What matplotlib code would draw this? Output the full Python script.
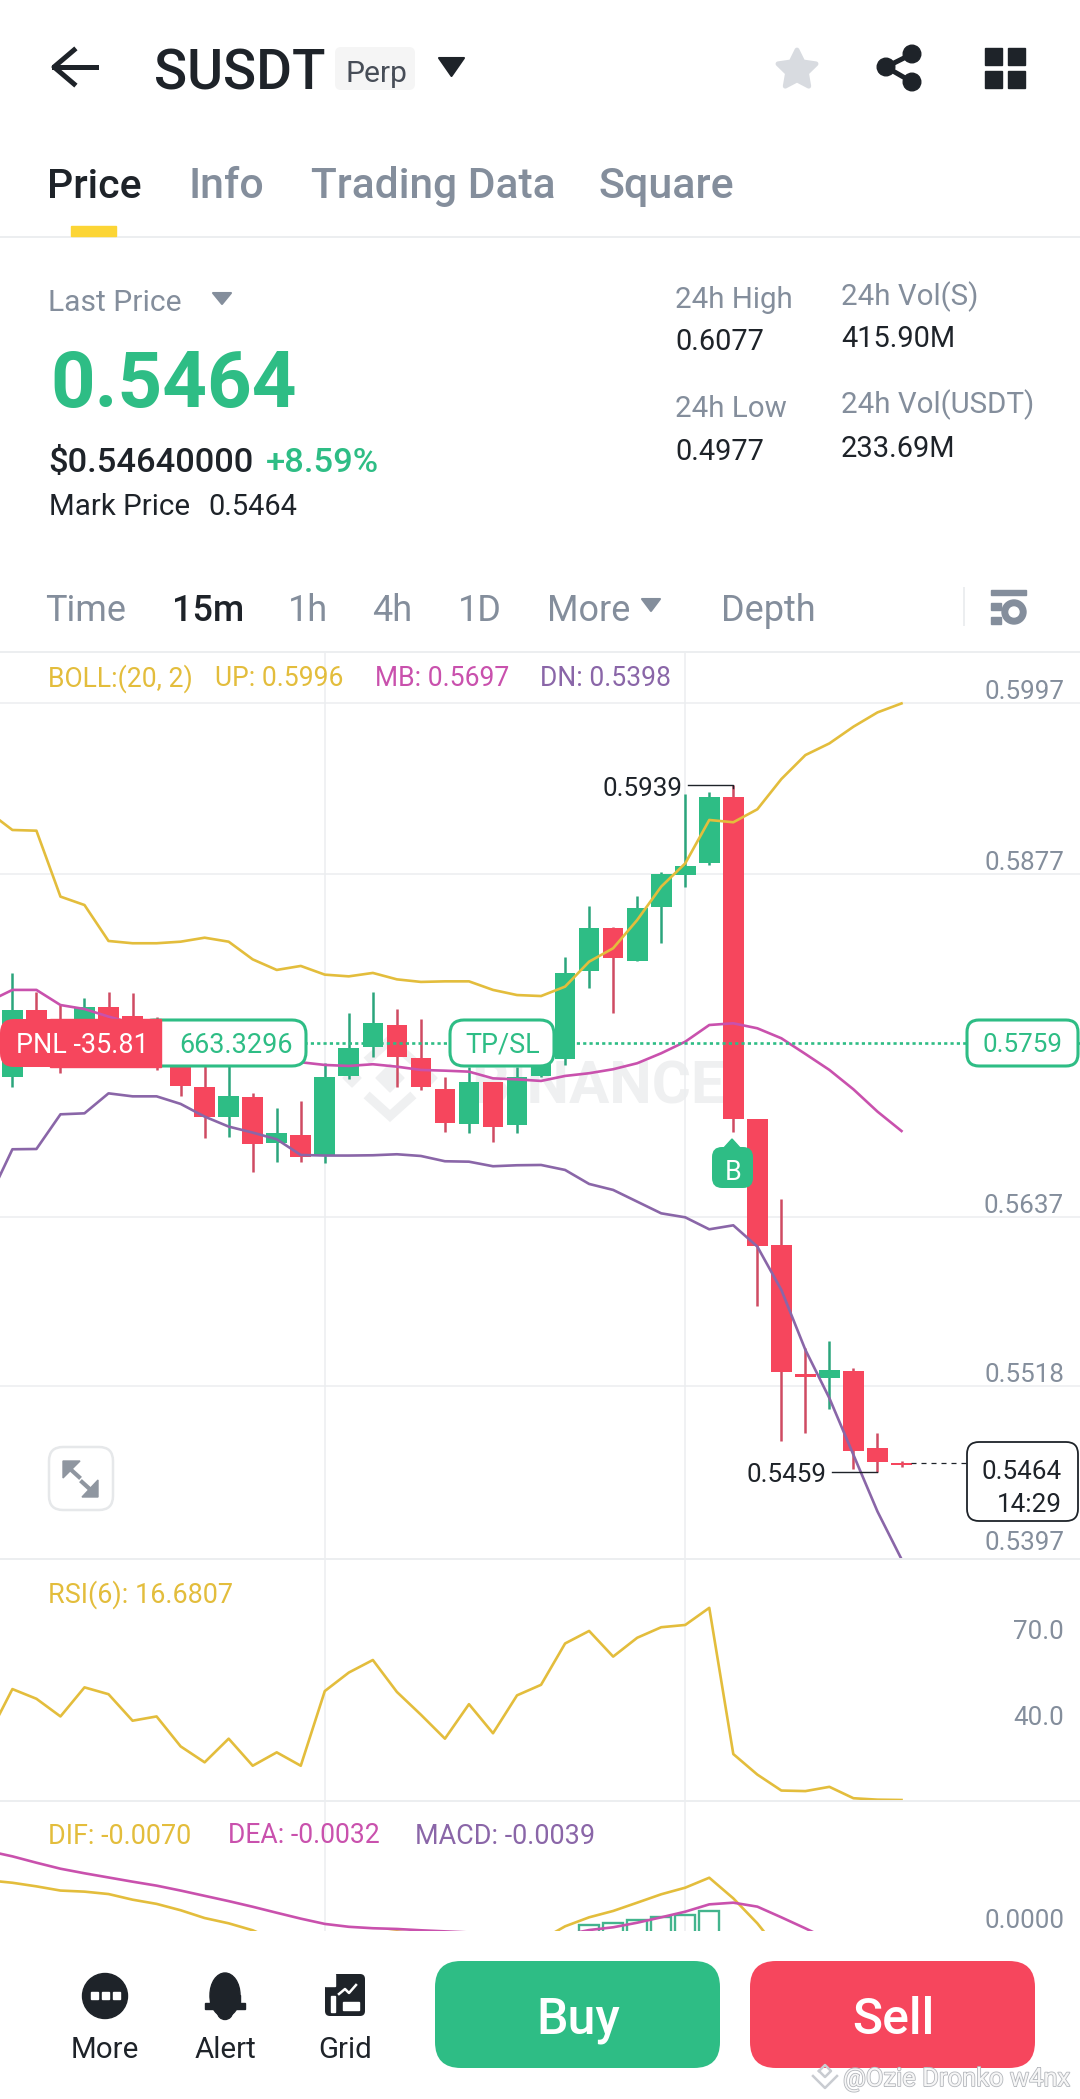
"""
Binance perp screen: 15m candles with BOLL, RSI and MACD panes.
"""

import numpy as np
import matplotlib
matplotlib.use('Agg')
import matplotlib.pyplot as plt
import matplotlib.patheffects as pe
from matplotlib.patches import FancyBboxPatch, Rectangle, Circle, Ellipse, Polygon

plt.rcParams['font.family'] = ['Roboto', 'DejaVu Sans']

W, H = 1080, 2099
GREEN = '#2ebd85'
RED = '#f6465d'
DARK = '#1e2329'
GREY = '#848e9c'
LINE = '#eceef0'
YELLOW = '#e3bd3c'
PINK = '#c951ad'
PURPLE = '#8a66a8'

# one candle per 15m, index 0 is the leftmost one on screen
opens = [0.57351, 0.57818, 0.57702, 0.57655, 0.57837, 0.57776, 0.57748, 0.57585, 0.57276, 0.57071,
         0.57206, 0.56884, 0.56942, 0.56802, 0.57358, 0.57561, 0.57713, 0.57484, 0.57262, 0.57019,
         0.57314, 0.57010, 0.57358, 0.57473, 0.58092, 0.58391, 0.58162, 0.58543, 0.58764, 0.58846,
         0.59313, 0.57055, 0.56171, 0.55267, 0.55242, 0.55288, 0.54747, 0.54646]
highs = [0.58075, 0.57947, 0.57853, 0.57900, 0.57947, 0.57940, 0.57772, 0.57655, 0.57445, 0.57445,
         0.57234, 0.57134, 0.57183, 0.57445, 0.57795, 0.57947, 0.57825, 0.57758, 0.57346, 0.57421,
         0.57316, 0.57421, 0.57702, 0.58187, 0.58550, 0.58398, 0.58617, 0.58788, 0.59332, 0.59348,
         0.59393, 0.57055, 0.56492, 0.55447, 0.55499, 0.55307, 0.54856, 0.54660]
lows = [0.57276, 0.57491, 0.57379, 0.57608, 0.57702, 0.57515, 0.57398, 0.57216, 0.56919, 0.56926,
        0.56685, 0.56755, 0.56755, 0.56744, 0.57332, 0.57491, 0.57276, 0.57258, 0.56966, 0.56954,
        0.56896, 0.56954, 0.57351, 0.57433, 0.57970, 0.57800, 0.58162, 0.58290, 0.58683, 0.58835,
        0.56966, 0.55744, 0.54800, 0.54852, 0.55022, 0.54599, 0.54578, 0.54613]
closes = [0.57818, 0.57561, 0.57561, 0.57837, 0.57748, 0.57608, 0.57538, 0.57288, 0.57071, 0.57216,
          0.56879, 0.56954, 0.56786, 0.57346, 0.57554, 0.57725, 0.57491, 0.57281, 0.57029, 0.57314,
          0.57001, 0.57351, 0.57468, 0.58075, 0.58391, 0.58180, 0.58531, 0.58769, 0.58830, 0.59313,
          0.57057, 0.56164, 0.55284, 0.55249, 0.55295, 0.54730, 0.54648, 0.54630]

# indicator series start one candle before the left edge
boll_up = [0.59208, 0.59080, 0.59075, 0.58613, 0.58554, 0.58302, 0.58286, 0.58286, 0.58297, 0.58325,
           0.58297, 0.58173, 0.58099, 0.58127, 0.58066, 0.58054, 0.58078, 0.58033, 0.58015, 0.58019,
           0.58019, 0.57959, 0.57923, 0.57916, 0.57982, 0.58157, 0.58251, 0.58449, 0.58683, 0.58846,
           0.59150, 0.59134, 0.59225, 0.59437, 0.59605, 0.59687, 0.59804, 0.59904, 0.59967]
boll_mb = [0.57877, 0.57959, 0.57959, 0.57853, 0.57825, 0.57772, 0.57725, 0.57678, 0.57608, 0.57550,
           0.57503, 0.57480, 0.57468, 0.57452, 0.57433, 0.57426, 0.57438, 0.57421, 0.57398, 0.57393,
           0.57386, 0.57339, 0.57332, 0.57321, 0.57356, 0.57375, 0.57403, 0.57445, 0.57515, 0.57596,
           0.57713, 0.57725, 0.57690, 0.57620, 0.57510, 0.57398, 0.57262, 0.57106, 0.56970]
boll_dn = [0.56487, 0.56842, 0.56844, 0.57087, 0.57094, 0.57234, 0.57213, 0.57213, 0.57160, 0.57071,
           0.57001, 0.56959, 0.56912, 0.56802, 0.56798, 0.56798, 0.56800, 0.56807, 0.56795, 0.56758,
           0.56755, 0.56723, 0.56730, 0.56732, 0.56697, 0.56599, 0.56557, 0.56475, 0.56393, 0.56365,
           0.56281, 0.56309, 0.56160, 0.55856, 0.55436, 0.55097, 0.54700, 0.54303, 0.53969]
rsi = [39.2, 55.6, 52.2, 46.0, 56.2, 53.8, 44.5, 46.0, 35.5, 29.9, 38.2, 28.7, 33.4, 28.7, 54.9,
       61.4, 65.8, 54.6, 46.6, 38.2, 50.3, 40.1, 53.4, 57.1, 71.6, 76.0, 67.0, 73.6, 77.3, 78.1,
       84.1, 32.8, 25.6, 20.0, 19.8, 21.3, 17.3, 16.8, 16.68]
dif = [0.00472, 0.00452, 0.00422, 0.00387, 0.00378, 0.00358, 0.00311, 0.00276, 0.00223, 0.00158,
       0.00114, 0.00056, -0.00032, -0.00076, -0.00062, -0.00032, 0.00026, 0.00047, 0.00026, -0.00047,
       -0.00076, -0.00062, -0.00032, -0.00025, 0.00089, 0.00164, 0.00217, 0.00286, 0.00356, 0.00411,
       0.00494, 0.00322, 0.00114, -0.00136, -0.00267, -0.00355, -0.00443, -0.00502, -0.00700]
dea = [0.00716, 0.00672, 0.00619, 0.00569, 0.00531, 0.00496, 0.00461, 0.00428, 0.00387, 0.00343,
       0.00299, 0.00252, 0.00202, 0.00153, 0.00109, 0.00085, 0.00073, 0.00067, 0.00056, 0.00047,
       0.00038, 0.00026, 0.00018, 0.00012, 0.00017, 0.00058, 0.00081, 0.00119, 0.00164, 0.00211,
       0.00272, 0.00286, 0.00253, 0.00164, 0.00072, -0.00025, -0.00130, -0.00230, -0.00320]
macd_idx = [24, 25, 26, 27, 28, 29]
macd_vals = [0.00100, 0.00114, 0.00142, 0.00169, 0.00183, 0.00217]

price_ticks = [0.5997, 0.5877, 0.5637, 0.5518, 0.5397]
price_label_dy = [-1, -1, -1, -1, 4]
rsi_ticks = [70.0, 40.0]

# screen x of a candle index: 12.4 px + 24.03 px per candle
X_LIM = (-12.4 / 24.03, (W - 12.4) / 24.03)
GRID_IDX = [13, 28]
LW = 1.9


def pixel_axes(zorder):
    ax = fig.add_axes([0, 0, 1, 1], zorder=zorder)
    ax.set_xlim(0, W)
    ax.set_ylim(H, 0)
    ax.axis('off')
    return ax


def pane(top, bottom, ylim):
    ax = fig.add_axes([0, 1 - bottom / H, 1, (bottom - top) / H], zorder=1)
    ax.set_xlim(X_LIM)
    ax.set_ylim(ylim)
    ax.axis('off')
    for i in GRID_IDX:
        ax.axvline(i, color=LINE, lw=1.1, zorder=1)
    return ax


def tick_label(ax, value, text, dy=4):
    ax.annotate(text, xy=(1, value), xycoords=('axes fraction', 'data'),
                xytext=(-16, dy), textcoords='offset pixels', ha='right', va='bottom',
                fontsize=26 * 0.72, color=GREY, annotation_clip=False, zorder=6)


def label(x, cy, s, px, color=DARK, weight='normal', ha='left'):
    return ui.text(x, cy + 0.355 * px, s, fontsize=px * 0.72, color=color, fontweight=weight,
                   ha=ha, va='baseline', zorder=8)


def box(x0, y0, x1, y1, r, face, edge='none', lw=0.0, zorder=5):
    ui.add_patch(FancyBboxPatch((x0, y0), x1 - x0, y1 - y0, boxstyle=f'round,pad=0,rounding_size={r}',
                                facecolor=face, edgecolor=edge, linewidth=lw, zorder=zorder))


def tri(x0, x1, y0, y1, color):
    ui.add_patch(Polygon([(x0, y0), (x1, y0), ((x0 + x1) / 2, y1)], closed=True, facecolor=color,
                         edgecolor=color, linewidth=1.5, joinstyle='round', zorder=6))


def star(cx, cy, outer, inner, color):
    angles = np.deg2rad(np.arange(-90, 270, 36))
    radii = np.where(np.arange(10) % 2 == 0, outer, inner)
    pts = np.c_[cx + radii * np.cos(angles), cy + radii * np.sin(angles)]
    ui.add_patch(Polygon(pts, closed=True, facecolor=color, edgecolor=color, linewidth=3.5,
                         joinstyle='round', zorder=6))


fig = plt.figure(figsize=(W / 100, H / 100), dpi=100, facecolor='white')

# faint exchange mark, behind all the panes
bg = pixel_axes(0)
bg.text(725, 1103, 'BINANCE', fontsize=60 * 0.72, fontweight='bold', color='#eff0f1',
        ha='right', va='baseline')
for pts in ([(370, 1098), (390, 1116), (410, 1098)], [(370, 1058), (390, 1040), (410, 1058)]):
    bg.plot(*zip(*pts), color='#eff0f1', lw=6.5, solid_joinstyle='miter')
for cx, r in [(390, 14), (352, 9), (428, 9)]:
    bg.add_patch(Polygon([(cx - r, 1078), (cx, 1078 - r), (cx + r, 1078), (cx, 1078 + r)], color='#eff0f1'))

# price pane, 14267 px per unit of price
ax_p = pane(652, 1559, (0.5997 - (1559 - 703) / 14267, 0.5997 + (703 - 652) / 14267))
for t, dy in zip(price_ticks, price_label_dy):
    ax_p.axhline(t, color=LINE, lw=1.1, zorder=1)
    tick_label(ax_p, t, f'{t:.4f}', dy)

idx = np.arange(len(opens))
for i in idx:
    up = closes[i] >= opens[i]
    ax_p.vlines(i, lows[i], highs[i], color='#2ba57c' if up else '#cf4b62', lw=1.8, zorder=3)
    ax_p.bar(i, abs(closes[i] - opens[i]), bottom=min(opens[i], closes[i]), width=0.86,
             color=GREEN if up else RED, linewidth=0, zorder=3)

line_x = np.arange(-1, len(opens))
ax_p.plot(line_x, boll_up, color=YELLOW, lw=LW, zorder=4)
ax_p.plot(line_x, boll_mb, color=PINK, lw=LW, zorder=4)
ax_p.plot(line_x, boll_dn, color=PURPLE, lw=LW, zorder=4)

# entry price, last price and the high / low callouts
ax_p.axhline(0.5759, color=GREEN, lw=1.9, ls=(0, (1.2, 1.2)), zorder=5)
ax_p.plot([37.4, 44], [0.5464, 0.5464], color=DARK, lw=0.9, ls=(0, (4, 4)), zorder=5)
ax_p.plot([28.1, 30, 30], [highs[30], highs[30], highs[30] - 0.0002], color=DARK, lw=1.0, zorder=5)
ax_p.plot([34.1, 36], [lows[36], lows[36]], color=DARK, lw=1.0, zorder=5)

# RSI pane, 2.85 px per point
ax_r = pane(1559, 1801, (16.68 - 1 / 2.85, 16.68 + 241 / 2.85))
ax_r.plot(line_x, rsi, color=YELLOW, lw=LW, zorder=4)
for t in rsi_ticks:
    tick_label(ax_r, t, f'{t:.1f}')

# MACD pane, 12000 px per unit, cut off by the bottom bar
ax_m = pane(1801, 1931, ((1937 - 1931) / 12000, (1937 - 1801) / 12000))
ax_m.bar(macd_idx, macd_vals, width=0.85, fill=False, edgecolor='#43b48d', linewidth=1.7, zorder=3)
ax_m.plot(line_x, dif, color=YELLOW, lw=LW, zorder=4)
ax_m.plot(line_x, dea, color=PINK, lw=LW, zorder=4)
tick_label(ax_m, 0.0, '0.0000')

# everything else is drawn in screen pixels on top
ui = pixel_axes(5)

for y in [237, 652, 1559, 1801]:
    ui.plot([0, W], [y, y], color=LINE, lw=1.4, zorder=2)

# header
ui.plot([54, 96], [67, 67], color=DARK, lw=3.6, zorder=6)
ui.plot([74, 54, 74], [50, 67, 84], color=DARK, lw=3.6, zorder=6)
label(154, 70, 'SUSDT', 55, DARK, 'medium')
box(335, 47, 415, 90, 6, '#f5f5f5')
label(345, 71, 'Perp', 30, '#474d57')
tri(439, 464, 58, 76, DARK)
star(797, 70, 20, 10, '#d8dbe0')
ui.plot([912, 886, 912], [54, 67, 82], color=DARK, lw=3.6, zorder=6)
for cx, cy in [(912, 54), (886, 67), (912, 82)]:
    ui.add_patch(Circle((cx, cy), 8.8, color=DARK, zorder=6))
for x0 in [985, 1008]:
    for y0 in [48, 71]:
        ui.add_patch(Rectangle((x0, y0), 17, 17, color=DARK, zorder=6))

# tabs
label(47, 183, 'Price', 41, DARK, 'medium')
label(188, 183, 'Info', 43, GREY, 'medium')
label(311, 183, 'Trading Data', 42.5, GREY, 'medium')
label(598, 183, 'Square', 43, GREY, 'medium')
ui.add_patch(Rectangle((71, 226), 45, 10, color='#fcd535', zorder=6))

# price block
label(48, 300, 'Last Price', 30, GREY)
tri(213, 231, 293, 304, GREY)
label(50, 379, '0.5464', 78, GREEN, 'bold')
label(48, 460, '$0.54640000', 34.5, DARK, 'medium')
label(266, 460, '+8.59%', 34.5, GREEN, 'medium')
label(49, 505, 'Mark Price', 29.5, DARK)
label(208, 505, '0.5464', 29, DARK)
label(675, 298, '24h High', 29.5, GREY)
label(675, 340, '0.6077', 29, DARK)
label(675, 407, '24h Low', 29.5, GREY)
label(675, 450, '0.4977', 29, DARK)
label(841, 295, '24h Vol(S)', 29.5, GREY)
label(841, 337, '415.90M', 29, DARK)
label(841, 403, '24h Vol(USDT)', 29.5, GREY)
label(841, 447, '233.69M', 29, DARK)

# interval row
for x, s, c, w in [(45, 'Time', GREY, 'normal'), (172, '15m', DARK, 'medium'), (288, '1h', GREY, 'normal'),
                   (372, '4h', GREY, 'normal'), (458, '1D', GREY, 'normal'), (547, 'More', GREY, 'normal'),
                   (721, 'Depth', GREY, 'normal')]:
    label(x, 608, s, 36, c, w)
tri(642, 660, 599, 611, GREY)
ui.plot([964, 964], [588, 625], color=LINE, lw=1.4, zorder=6)
ui.add_patch(Rectangle((991, 590), 35, 5, color=GREY, zorder=6))
ui.add_patch(Rectangle((991, 603), 10, 7, color=GREY, zorder=6))
ui.add_patch(Rectangle((991, 617), 10, 7, color=GREY, zorder=6))
ui.add_patch(Circle((1014, 612), 12, color=GREY, zorder=6))
ui.add_patch(Circle((1014, 612), 5, color='white', zorder=7))

# indicator legends
label(48, 677, 'BOLL:(20, 2)', 26.5, YELLOW)
label(215, 677, 'UP: 0.5996', 26.5, YELLOW)
label(375, 677, 'MB: 0.5697', 26.5, PINK)
label(540, 677, 'DN: 0.5398', 26.5, PURPLE)
label(48, 1593, 'RSI(6): 16.6807', 27, YELLOW)
label(48, 1834, 'DIF: -0.0070', 27, YELLOW)
label(228, 1834, 'DEA: -0.0032', 26.5, PINK)
label(415, 1834, 'MACD: -0.0039', 27, PURPLE)

# position tags
box(140, 1020, 306, 1066, 14, 'white', GREEN, 2.2)
box(0, 1019, 100, 1067, 14, RED, zorder=6)
ui.add_patch(Rectangle((50, 1019), 111, 48, color=RED, zorder=6))
label(16, 1043, 'PNL -35.81', 27, 'white')
label(179, 1043, '663.3296', 27, GREEN)
box(450, 1020, 554, 1066, 14, 'white', GREEN, 2.2)
label(465, 1043, 'TP/SL', 27, GREEN)
box(967, 1020, 1078, 1066, 12, 'white', GREEN, 2.2)
label(1062, 1043, '0.5759', 26, GREEN, ha='right')

# B marker
ui.add_patch(Polygon([(722, 1150), (732, 1139), (742, 1150)], color=GREEN, zorder=6))
box(712, 1147, 753, 1188, 10, GREEN, zorder=6)
label(733, 1170, 'B', 27, 'white', ha='center')

# callouts and last price box
label(683, 787, '0.5939', 26, DARK, ha='right')
label(827, 1473, '0.5459', 26, DARK, ha='right')
box(967, 1442, 1078, 1521, 12, 'white', DARK, 1.3)
label(1062, 1470, '0.5464', 26, DARK, ha='right')
label(1062, 1503, '14:29', 26, DARK, ha='right')

# expand button
box(49, 1447, 113, 1510, 14, 'white', '#e6e8ea', 1.8)
ui.plot([68, 79], [1467, 1477], color='#8f96a0', lw=3, zorder=6)
ui.plot([82, 93], [1482, 1492], color='#8f96a0', lw=3, zorder=6)
ui.add_patch(Polygon([(63, 1461), (80, 1461), (63, 1478)], color='#8f96a0', zorder=6))
ui.add_patch(Polygon([(98, 1497), (82, 1497), (98, 1480)], color='#8f96a0', zorder=6))

# bottom bar
ui.add_patch(Circle((105, 1996), 22.5, color=DARK, zorder=6))
for cx in [94, 105, 116]:
    ui.add_patch(Rectangle((cx - 3.5, 1992), 7, 7, color='white', zorder=7))
ui.add_patch(Ellipse((225, 1995), 30, 44, color=DARK, zorder=6))
ui.add_patch(Rectangle((210, 1995), 30, 12, color=DARK, zorder=6))
ui.add_patch(Rectangle((205, 2003), 40, 6, color=DARK, zorder=6))
ui.add_patch(Circle((225, 2012), 7.5, color=DARK, zorder=6))
ui.add_patch(Rectangle((215, 2003), 20, 6, color=DARK, zorder=7))
box(325, 1974, 365, 2016, 5, DARK, zorder=6)
ui.add_patch(Rectangle((325, 1974), 10, 12, color='white', zorder=7))
ui.plot([339, 345, 349, 356], [1994, 1989, 1993, 1985], color='white', lw=1.8, zorder=8)
ui.add_patch(Rectangle((331, 1996), 4, 16, color='white', zorder=7))
ui.add_patch(Rectangle((343, 2002), 16, 8, color='white', zorder=7))
label(105, 2048, 'More', 29.5, DARK, ha='center')
label(225, 2048, 'Alert', 29.5, DARK, ha='center')
label(345, 2048, 'Grid', 29.5, DARK, ha='center')
box(435, 1961, 720, 2068, 26, GREEN)
box(750, 1961, 1035, 2068, 26, RED)
label(578, 2016, 'Buy', 50, 'white', 'medium', ha='center')
label(893, 2016, 'Sell', 50, 'white', 'medium', ha='center')

# image watermark over the button corner
mark = label(843, 2077, '@Ozie Dronko w4nx', 25.5, '#f6f6f6')
mark.set_path_effects([pe.withStroke(linewidth=1.2, foreground='#b4b7bc')])
mark.set_zorder(9)
for pts in ([(813, 2076), (825, 2088), (837, 2076)], [(819, 2071), (825, 2065), (831, 2071), (825, 2077), (819, 2071)]):
    ui.plot(*zip(*pts), color='#c9ccd1', lw=1.8, zorder=9)

fig.savefig('out.png', dpi=100)
